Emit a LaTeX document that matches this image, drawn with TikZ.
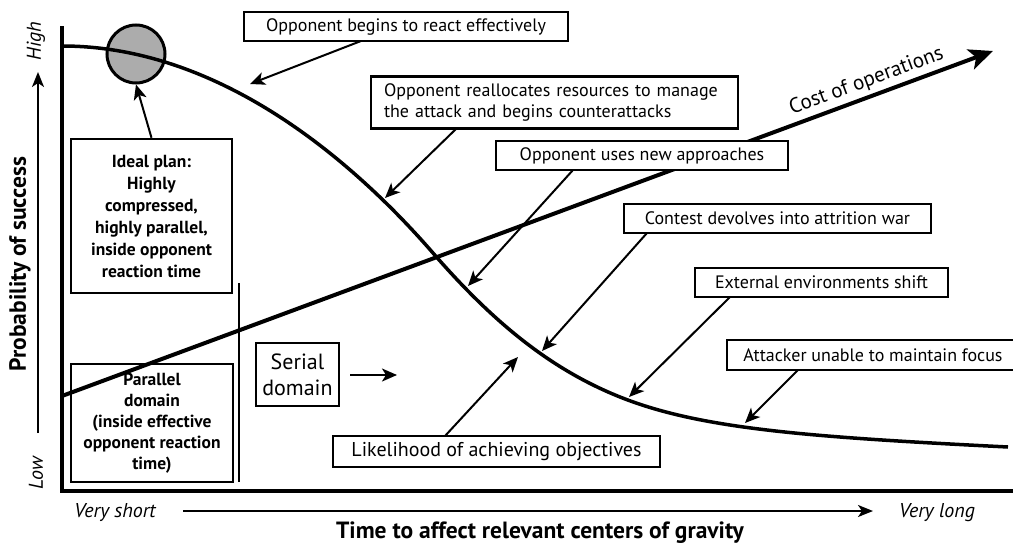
\documentclass[tikz,border=0pt]{standalone}
\usepackage{fontspec}
\setmainfont{PT Sans}
\usetikzlibrary{arrows.meta,calc}
\begin{document}
\begin{tikzpicture}[x=1pt,y=-1pt,
  box/.style={draw,line width=2.4pt,inner sep=0pt,align=center,font=\fontsize{18}{21}\selectfont},
  boldbox/.style={box,font=\fontsize{17.5}{22}\selectfont\bfseries},
  arr/.style={line width=2pt,-{Stealth[length=15pt,width=13pt,inset=4pt]}},
  axisarr/.style={line width=2pt,-{Stealth[length=15pt,width=12pt,inset=4pt]}},
  axislbl/.style={font=\fontsize{23.5}{26}\selectfont\bfseries},
  itlbl/.style={font=\fontsize{20}{23}\selectfont\itshape},
  heavy/.style={line width=4.5pt}]
\clip (0,0) rectangle (1013,546);
% axes
\draw[heavy,line join=miter] (62,26) -- (62,491) -- (1013,491);
\draw[line width=2pt] (239,283) -- (239,482);
% axis labels
\node[axislbl,rotate=90] (ylbl) at (20,264) {Probability of success};
\coordinate (ya0) at (38,433);
\coordinate (ya1) at (38,72);
\draw[axisarr] (ya0) -- (ya1);
\node[itlbl,rotate=90] (high) at (36,41) {High};
\node[itlbl,rotate=90] (low) at (36,473) {Low};
\node[itlbl] (vshort) at (115,513) {Very short};
\node[itlbl] (vlong) at (937,513) {Very long};
\coordinate (xa0) at (183,511);
\coordinate (xa1) at (873,511);
\draw[axisarr] (xa0) -- (xa1);
\node[axislbl] (xlbl) at (540,533) {Time to affect relevant centers of gravity};
% circle
\node[circle,draw,fill=gray!65,line width=3pt,minimum size=58pt,inner sep=0pt] (dot) at (136,54) {};
% likelihood curve
\draw[line width=3.5pt] (62,46) .. controls (212,46) and (343,149.5) .. (433,253)
  .. controls (493,322) and (550,369) .. (620,397)
  .. controls (700,429) and (808,437) .. (1008,447);
% cost line
\coordinate (c0) at (62,396);
\coordinate (c1) at (993,51);
\draw[line width=4pt,-{Stealth[length=24pt,width=21pt,inset=6pt]}] (c0) -- (c1)
  node[pos=0.87,sloped,anchor=south,inner sep=4pt,font=\fontsize{21}{24}\selectfont] (costlbl) {Cost of operations};
% boxes
\node[boldbox,minimum width=161pt,minimum height=154pt] (ideal) at (151.5,216) {Ideal plan:\\Highly\\compressed,\\highly parallel,\\inside opponent\\reaction time};
\node[boldbox,minimum width=162pt,minimum height=118pt,font=\fontsize{17.5}{21}\selectfont\bfseries] (parallel) at (152,423) {Parallel\\domain\\(inside effective\\opponent reaction\\time)};
\node[box,minimum width=83pt,minimum height=63pt,font=\fontsize{22}{26}\selectfont] (serial) at (297.5,374.5) {Serial\\domain};
\node[box,minimum width=324pt,minimum height=29pt] (begins) at (406,26.5) {Opponent begins to react effectively};
\node[box,minimum height=52pt,align=left,text width=341pt,inner xsep=13pt] (realloc) at (554.5,102.5) {Opponent reallocates resources to manage\\the attack and begins counterattacks};
\node[box,fill=white,minimum width=292pt,minimum height=29pt] (newappr) at (642,155.5) {Opponent uses new approaches};
\node[box,minimum width=307pt,minimum height=29pt] (contest) at (777.5,218.5) {Contest devolves into attrition war};
\node[box,minimum width=253pt,minimum height=29pt] (external) at (821.5,282.5) {External environments shift};
\node[box,minimum width=292pt,minimum height=30pt] (attacker) at (873,355) {Attacker unable to maintain focus};
\node[box,minimum width=327pt,minimum height=31pt,font=\fontsize{20}{23}\selectfont] (likely) at (496.5,451.5) {Likelihood of achieving objectives};
% connectors
\draw[arr] (ideal.north) -- (dot.south);
\coordinate (s1) at (361,41);  \coordinate (t1) at (250,84);
\coordinate (s2) at (457,128); \coordinate (t2) at (385,198);
\coordinate (s3) at (573,170); \coordinate (t3) at (468,286);
\coordinate (s4) at (647,233); \coordinate (t4) at (542,351);
\coordinate (s5) at (730,297); \coordinate (t5) at (629,397);
\coordinate (s6) at (798,370); \coordinate (t6) at (745,423);
\coordinate (s7) at (445,436); \coordinate (t7) at (518,357);
\coordinate (s8) at (350,375); \coordinate (t8) at (397,375);
\draw[arr] (s1) -- (t1);
\draw[arr] (s2) -- (t2);
\draw[arr] (s3) -- (t3);
\draw[arr] (s4) -- (t4);
\draw[arr] (s5) -- (t5);
\draw[arr] (s6) -- (t6);
\draw[arr] (s7) -- (t7);
\draw[arr] (s8) -- (t8);
\end{tikzpicture}
\end{document}
